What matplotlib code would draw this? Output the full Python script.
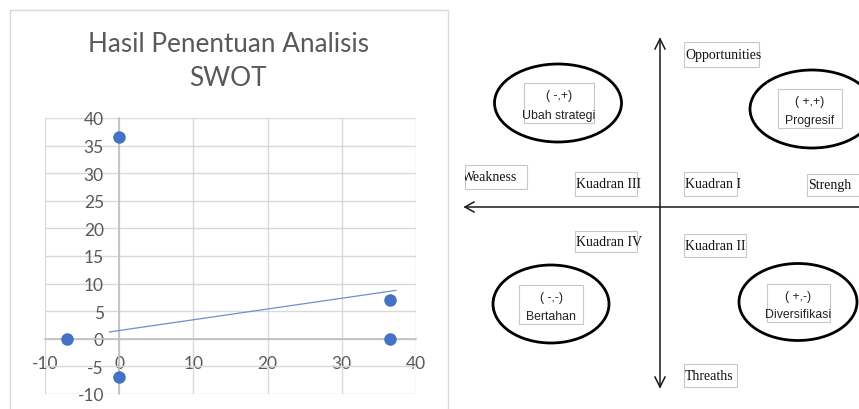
import matplotlib
matplotlib.use('Agg')
import matplotlib.pyplot as plt
from matplotlib.patches import Ellipse, Rectangle
from matplotlib import font_manager
import numpy as np

plt.rcParams['axes.unicode_minus'] = False

# ---------------- data: scatter chart ----------------
title = "Hasil Penentuan Analisis\nSWOT"
x_vals = [-7, 0, 0, 36.5, 36.5]
y_vals = [0, 36.5, -7, 7, 0]
trend_x = [-1.3, 37.3]
trend_intercept = 1.5
trend_slope = 0.195
x_ticks = [-10, 0, 10, 20, 30, 40]
y_ticks = [-10, -5, 0, 5, 10, 15, 20, 25, 30, 35, 40]

# ---------------- data: SWOT diagram texts ----------------
quadrant_signs = ["( -,+)", "( +,+)", "( -,-)", "( +,-)"]
quadrant_strategies = ["Ubah strategi", "Progresif", "Bertahan", "Diversifikasi"]
axis_labels = ["Opportunities", "Weakness", "Strengh", "Threaths"]
kuadran_labels = ["Kuadran I", "Kuadran II", "Kuadran III", "Kuadran IV"]

W, H = 859, 410
fig = plt.figure(figsize=(W / 100, H / 100), dpi=100)
fig.patch.set_facecolor('white')

names = {f.name for f in font_manager.fontManager.ttflist}
sans_narrow = 'Liberation Sans Narrow' if 'Liberation Sans Narrow' in names else 'Liberation Sans'
serif = 'Liberation Serif'
excel_font = 'Lato'

# overlay axes in pixel coordinates for the diagram and frame
ov = fig.add_axes([0, 0, 1, 1], zorder=0)
ov.set_xlim(0, W)
ov.set_ylim(H, 0)
ov.axis('off')
ov.patch.set_alpha(0)

# frame of the Excel chart
ov.plot([10, 10, 448, 448], [H + 2, 11, 11, H + 2], color='#d9d9d9', lw=1.0, clip_on=False)

# ---------------- scatter chart ----------------
ax = fig.add_axes([45 / W, (H - 395) / H, 371 / W, 276 / H], zorder=2)
ax.patch.set_alpha(0)
ax.set_xlim(-10, 40)
ax.set_ylim(-10, 40)
ax.set_xticks(x_ticks)
ax.set_yticks(y_ticks)
ax.grid(True, color='#d9d9d9', lw=1.0)
ax.set_axisbelow(True)
for s in ['top', 'right']:
    ax.spines[s].set_visible(False)
ax.spines['left'].set_position(('data', 0))
ax.spines['bottom'].set_position(('data', 0))
for s in ['left', 'bottom']:
    ax.spines[s].set_color('#bfbfbf')
    ax.spines[s].set_linewidth(1.2)
ax.tick_params(axis='both', length=0, labelcolor='#595959', labelsize=12.5)
ax.tick_params(axis='y', pad=11)
ax.tick_params(axis='x', pad=12)
for lab in ax.get_xticklabels() + ax.get_yticklabels():
    lab.set_fontfamily(excel_font)

tx = np.array(trend_x)
ax.plot(tx, trend_intercept + trend_slope * tx, color='#6f8fd0', lw=0.9, zorder=3)
ax.plot(x_vals, y_vals, 'o', color='#4472C4', markersize=8, zorder=4, clip_on=False)

fig.text(228 / W, 1 - 62 / H, title, ha='center', va='center', fontsize=18.8,
         color='#595959', family=excel_font, linespacing=1.45)

# ---------------- SWOT diagram ----------------
ink = '#1a1a1a'
# vertical axis with arrows
ov.plot([660, 660], [40, 388], color=ink, lw=1.1)
ov.plot([655, 660, 665], [50, 40, 50], color=ink, lw=1.1)
ov.plot([655, 660, 665], [378, 388, 378], color=ink, lw=1.1)
# horizontal axis with left arrow
ov.plot([465, W + 2], [208, 208], color=ink, lw=1.1, clip_on=False)
ov.plot([474, 465, 474], [203, 208, 213], color=ink, lw=1.1)

box_col = '#c8c8c8'

# ellipses with strategy boxes
ellipses = [(558, 104, 127, 78), (812, 110, 124, 78), (551, 305, 116, 78), (798, 303, 118, 77)]
boxes = [(524, 84, 70, 40), (778, 90, 64, 39), (519, 286, 64, 39), (767, 285, 63, 38)]
for i in range(4):
    cx, cy, ew, eh = ellipses[i]
    ov.add_patch(Ellipse((cx, cy), ew, eh, fill=False, ec='black', lw=2.0))
    bx, by, bw, bh = boxes[i]
    ov.add_patch(Rectangle((bx, by), bw, bh, fill=False, ec=box_col, lw=0.8))
    ov.text(bx + bw / 2, by + 12, quadrant_signs[i], ha='center', va='center',
            fontsize=8.8, family=sans_narrow, color='#222222')
    ov.text(bx + bw / 2, by + bh - 8, quadrant_strategies[i], ha='center', va='center',
            fontsize=8.8, family=sans_narrow, color='#222222')

# serif labels in boxes: (x0, y0, x1, y1)
label_boxes = {
    "Opportunities": (684, 43, 759, 68),
    "Weakness": (465, 166, 527, 190),
    "Strengh": (807, 175, 862, 197),
    "Threaths": (684, 365, 737, 388),
    "Kuadran I": (684, 173, 737, 197),
    "Kuadran II": (684, 235, 746, 258),
    "Kuadran III": (575, 173, 637, 197),
    "Kuadran IV": (575, 232, 637, 253),
}
for name in axis_labels + kuadran_labels:
    x0, y0, x1, y1 = label_boxes[name]
    rect = Rectangle((x0, y0), x1 - x0, y1 - y0, fill=False, ec=box_col, lw=0.8, clip_on=False)
    ov.add_patch(rect)
    tx0 = x0 - 3 if name == "Weakness" else x0 + 1
    t = ov.text(tx0, (y0 + y1) / 2, name, ha='left', va='center', fontsize=10.0,
                family=serif, color='#111111')
    if name == "Weakness":
        t.set_clip_path(rect)
        t.set_clip_on(True)

fig.savefig('out.png', dpi=100, facecolor='white')
